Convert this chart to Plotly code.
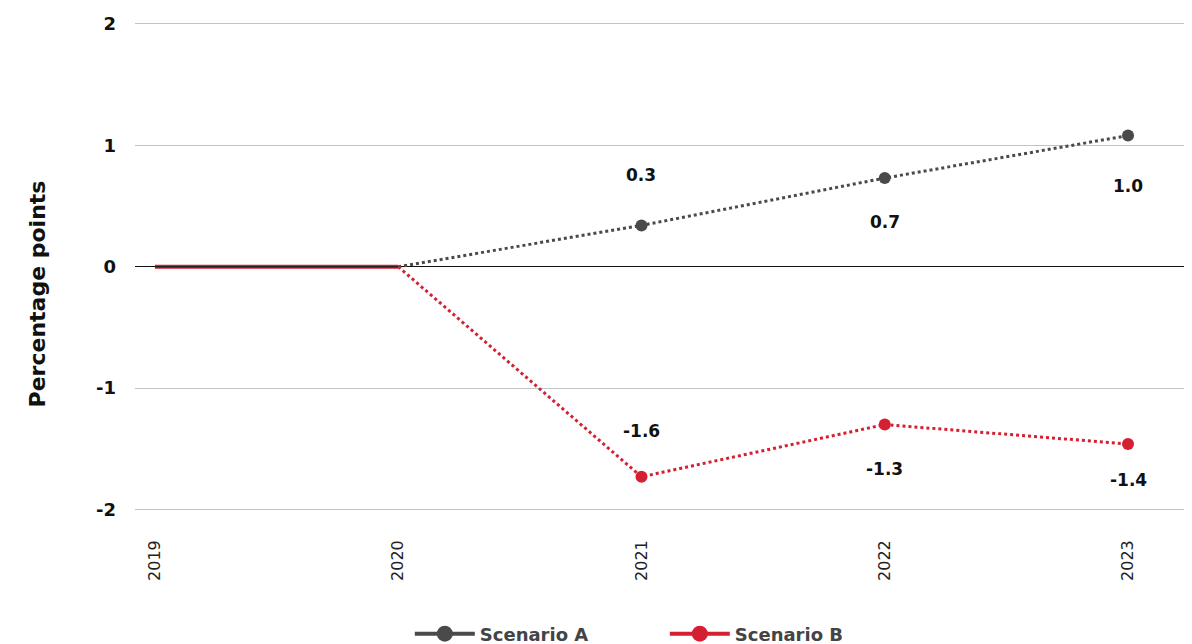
import plotly.graph_objects as go

years = ["2019", "2020", "2021", "2022", "2023"]
scenario_a = [0, 0, 0.34, 0.73, 1.08]
scenario_b = [0, 0, -1.73, -1.30, -1.46]
labels_a = ["", "", "0.3", "0.7", "1.0"]
labels_b = ["", "", "-1.6", "-1.3", "-1.4"]
label_shift_a = [0, 0, 50, -44, -50]
label_shift_b = [0, 0, 46, -44, -36]
y_ticks = [-2, -1, 0, 1, 2]
y_tick_text = ["-2", "-1", "0", "1", "2"]

GRAY = "#4a4a4a"
RED = "#d42030"
FONT = "DejaVu Sans"

fig = go.Figure()

# solid historical segments
fig.add_trace(go.Scatter(x=years[:2], y=scenario_b[:2], mode="lines",
                         line=dict(color=RED, width=4), showlegend=False, hoverinfo="skip"))
fig.add_trace(go.Scatter(x=years[:2], y=scenario_a[:2], mode="lines",
                         line=dict(color="#222222", width=1.5), showlegend=False, hoverinfo="skip"))
# dotted projections
fig.add_trace(go.Scatter(x=years[1:], y=scenario_a[1:], mode="lines",
                         line=dict(color=GRAY, width=3, dash="dot"), showlegend=False, hoverinfo="skip"))
fig.add_trace(go.Scatter(x=years[1:], y=scenario_b[1:], mode="lines",
                         line=dict(color=RED, width=3, dash="dot"), showlegend=False, hoverinfo="skip"))
# markers
fig.add_trace(go.Scatter(x=years[2:], y=scenario_a[2:], mode="markers",
                         marker=dict(color=GRAY, size=12), showlegend=False))
fig.add_trace(go.Scatter(x=years[2:], y=scenario_b[2:], mode="markers",
                         marker=dict(color=RED, size=12), showlegend=False))
# legend entries
fig.add_trace(go.Scatter(x=[None], y=[None], mode="lines+markers", name="Scenario A",
                         line=dict(color=GRAY, width=4), marker=dict(color=GRAY, size=17)))
fig.add_trace(go.Scatter(x=[None], y=[None], mode="lines+markers", name="Scenario B",
                         line=dict(color=RED, width=4), marker=dict(color=RED, size=17)))

for i, (v, t, s) in enumerate(zip(scenario_a, labels_a, label_shift_a)):
    if t:
        fig.add_annotation(x=i, y=v, text=t, showarrow=False, yshift=s,
                           font=dict(family=FONT, size=17, color="#111111", weight="bold"))
for i, (v, t, s) in enumerate(zip(scenario_b, labels_b, label_shift_b)):
    if t:
        fig.add_annotation(x=i, y=v, text=t, showarrow=False, yshift=s,
                           font=dict(family=FONT, size=17, color="#111111", weight="bold"))

# y-axis title (placed as annotation to match reference position)
fig.add_annotation(xref="paper", yref="paper", x=0, xshift=-112, y=0.445, yanchor="middle",
                   text="Percentage points", textangle=-90, showarrow=False,
                   font=dict(family=FONT, size=22, color="#111111", weight="bold"))

fig.update_layout(
    width=1192, height=644,
    margin=dict(l=127, r=8, t=14, b=140),
    plot_bgcolor="white", paper_bgcolor="white",
    font=dict(family=FONT, color="#111111"),
    xaxis=dict(type="category", range=[-0.082, 4.263], showgrid=False, zeroline=False,
               tickangle=-90, tickfont=dict(size=16, color="#222222"),
               ticks="", showline=False, ticklabelstandoff=24, automargin=False),
    yaxis=dict(range=[-2.02, 2.015], tickvals=y_ticks, ticktext=y_tick_text,
               showgrid=True, gridcolor="#c4c4c4",
               gridwidth=1, zeroline=True, zerolinecolor="#111111", zerolinewidth=1,
               tickfont=dict(size=18, color="#111111", weight="bold"), ticklabelstandoff=18,
               automargin=False),
    legend=dict(orientation="h", x=0.26, xanchor="left", yref="container", y=0.028,
                yanchor="middle",
                font=dict(size=18, color="#444444", weight="bold"), itemwidth=60,
                entrywidth=180),
)

fig.write_html("out.html")
